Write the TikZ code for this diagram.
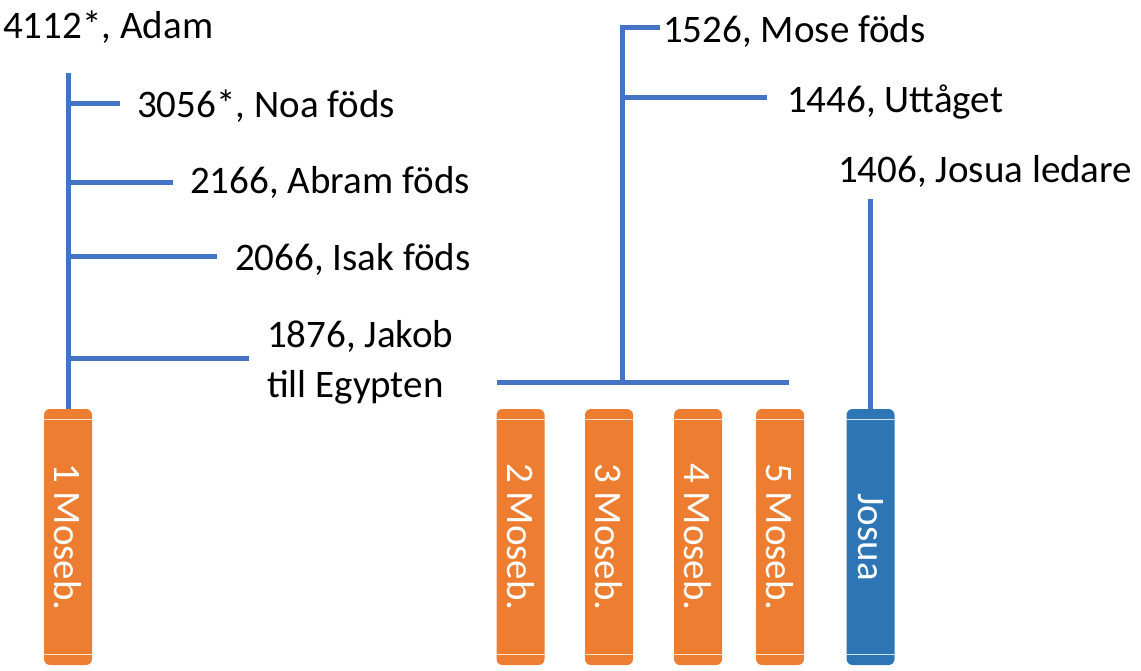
\documentclass[tikz,border=0pt]{standalone}
\usepackage{fontspec}
\setmainfont{Carlito}
\usetikzlibrary{positioning}
\definecolor{bookorange}{HTML}{ED7D31}
\definecolor{bookblue}{HTML}{2E75B6}
\definecolor{lineblue}{HTML}{4472C4}

\begin{document}
\begin{tikzpicture}[x=1pt, y=-1pt,
  book/.style={rounded corners=6pt, minimum width=48pt, minimum height=256pt, inner sep=0pt,
    text=white, font=\fontsize{39}{47}\selectfont},
  date/.style={anchor=base west, inner sep=0pt, align=left, font=\fontsize{39}{50}\selectfont},
  tree/.style={draw=lineblue, line width=5pt}]
  \useasboundingbox (0,0) rectangle (1141,670);

  % books
  \node[book, fill=bookorange] (b1) at (68,537)    {\rotatebox{-90}{1 Moseb.}};
  \node[book, fill=bookorange] (b2) at (520.5,537) {\rotatebox{-90}{2 Moseb.}};
  \node[book, fill=bookorange] (b3) at (609,537)   {\rotatebox{-90}{3 Moseb.}};
  \node[book, fill=bookorange] (b4) at (698,537)   {\rotatebox{-90}{4 Moseb.}};
  \node[book, fill=bookorange] (b5) at (780,537)   {\rotatebox{-90}{5 Moseb.}};
  \node[book, fill=bookblue]   (bj) at (870.5,537) {\rotatebox{-90}{Josua}};
  \foreach \b in {b1,b2,b3,b4,b5,bj}
    \draw[white, opacity=.8, line width=1pt]
      ([yshift=-11pt]\b.north west) -- ([yshift=-11pt]\b.north east)
      ([yshift=11pt]\b.south west) -- ([yshift=11pt]\b.south east);

  % dates
  \node[date] (adam)  at (3,38)    {4112*, Adam};
  \node[date] (noa)   at (137,117) {3056*, Noa föds};
  \node[date] (abram) at (190,193) {2166, Abram föds};
  \node[date] (isak)  at (235,270) {2066, Isak föds};
  \node[date] (jakob) at (267,397) {1876, Jakob\\till Egypten};
  \node[date] (mose)  at (663,42)  {1526, Mose föds};
  \node[date] (ut)    at (787,112) {1446, Uttåget};
  \node[date] (josua) at (838,182) {1406, Josua ledare};

  % left tree
  \coordinate (lt) at (b1.north |- 0,73);
  \coordinate (e1) at (120,103);
  \coordinate (e2) at (173,182);
  \coordinate (e3) at (217,256);
  \coordinate (e4) at (249,358);
  \draw[tree] (lt) -- (b1.north);
  \foreach \e in {e1,e2,e3,e4}
    \draw[tree] (lt |- \e) -- (\e);

  % right tree
  \coordinate (rt)   at (622,27);
  \coordinate (m1)   at (660,27);
  \coordinate (m2)   at (767,97);
  \coordinate (barl) at (497,382);
  \coordinate (barr) at (789,382);
  \draw[tree] (m1) -- (rt) -- (rt |- barl);
  \draw[tree] (rt |- m2) -- (m2);
  \draw[tree] (barl) -- (barr);

  % josua
  \coordinate (jt) at (bj.north |- 0,199);
  \draw[tree] (jt) -- (bj.north);
\end{tikzpicture}
\end{document}
